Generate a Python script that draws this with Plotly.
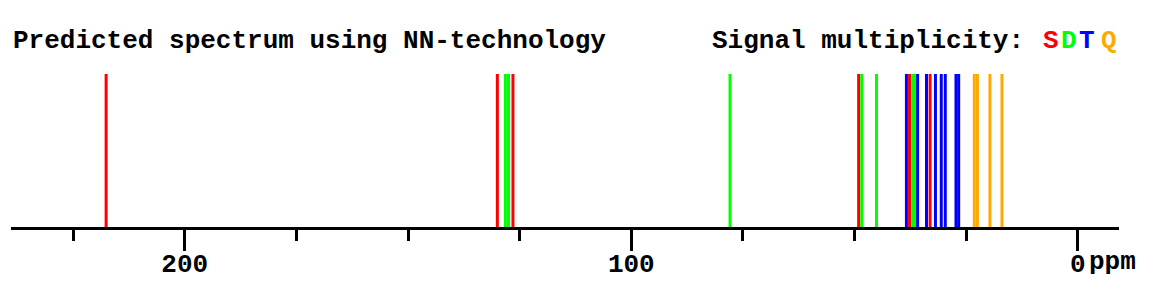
import plotly.graph_objects as go

# Chemical shifts (ppm) grouped by signal multiplicity
singlet_ppm = [217.6, 130.0, 126.5, 49.1, 37.7, 33.1]          # S (red)
doublet_ppm = [128.2, 127.5, 77.9, 48.4, 45.1, 37.0, 36.5]     # D (green)
triplet_ppm = [38.4, 35.9, 33.9, 31.9, 30.6, 29.7, 27.3, 26.7]  # T (blue)
quartet_ppm = [23.2, 22.5, 19.7, 17.0]                          # Q (orange)

major_ticks = [200, 100, 0]
major_labels = ["200", "100", "0"]

FONT = "Courier New, Liberation Mono, monospace"
W, H = 1173, 290
L, R, T, B = 11, 54, 73.5, 62.5

def sticks(vals):
    xs, ys = [], []
    for v in vals:
        xs += [v, v, None]
        ys += [0, 1, None]
    return xs, ys

fig = go.Figure()
for vals, col in [(singlet_ppm, "#FF0000"), (doublet_ppm, "#00FF00"),
                  (triplet_ppm, "#0000FF"), (quartet_ppm, "#FFAA00")]:
    xs, ys = sticks(vals)
    fig.add_trace(go.Scatter(x=xs, y=ys, mode="lines",
                             line=dict(color=col, width=3),
                             hoverinfo="skip", showlegend=False))

pw = W - L - R
ph = H - T - B
def px_x(x):
    return (x - L) / pw
def px_y(y):
    return (H - B - y) / ph

ann = [
    dict(text="<b>Predicted spectrum using NN-technology</b>", x=px_x(11), y=px_y(40),
         xanchor="left", yanchor="middle", font=dict(size=26, color="black")),
    dict(text="<b>Signal multiplicity:</b>", x=px_x(709.5), y=px_y(40),
         xanchor="left", yanchor="middle", font=dict(size=26, color="black")),
    dict(text="<b>ppm</b>", x=px_x(1086.5), y=px_y(263),
         xanchor="left", yanchor="middle", font=dict(size=26, color="black")),
]
for ch, cx, col in [("S", 1050.5, "#FF0000"), ("D", 1068.5, "#00FF00"),
                    ("T", 1087, "#0000FF"), ("Q", 1109, "#FFAA00")]:
    ann.append(dict(text=f"<b>{ch}</b>", x=px_x(cx), y=px_y(40),
                    xanchor="center", yanchor="middle", font=dict(size=26, color=col)))
for a in ann:
    a.update(xref="paper", yref="paper", showarrow=False)

fig.update_layout(
    width=W, height=H,
    margin=dict(l=L, r=R, t=T, b=B, pad=0, autoexpand=False),
    paper_bgcolor="white", plot_bgcolor="white",
    font=dict(family=FONT, color="black"),
    annotations=ann,
    xaxis=dict(range=[238.9, -9.2], showgrid=False, zeroline=False, automargin=False,
               showline=True, linecolor="black", linewidth=3,
               tickmode="array", tickvals=major_ticks, ticktext=[f"<b>{t}</b>" for t in major_labels],
               ticks="outside", ticklen=21, tickwidth=3, tickcolor="black",
               ticklabelstandoff=-10,
               tickfont=dict(size=26, family=FONT, color="black"),
               minor=dict(dtick=25, tick0=0, ticks="outside", ticklen=11, tickwidth=3,
                          tickcolor="black", showgrid=False)),
    yaxis=dict(range=[0, 1], visible=False, fixedrange=True, automargin=False),
)

fig.write_html("out.html")
